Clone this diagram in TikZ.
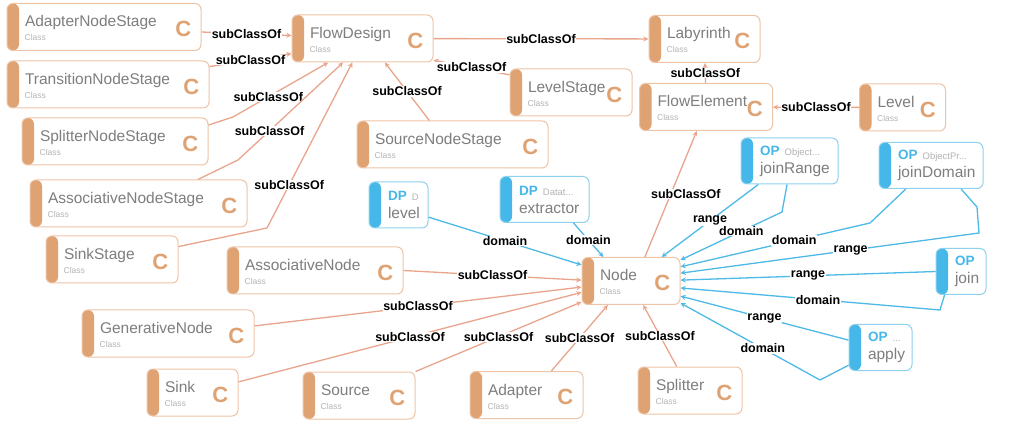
\documentclass[tikz,border=0pt]{standalone}
\usepackage{fontspec}
\setmainfont{Liberation Sans}
\usetikzlibrary{arrows}
\hyphenpenalty=10000
\exhyphenpenalty=10000
\definecolor{clsbar}{HTML}{DFA272}
\definecolor{clsline}{HTML}{EEC4A6}
\definecolor{subline}{HTML}{E9A48C}
\definecolor{propbar}{HTML}{45B7E8}
\definecolor{propline}{HTML}{8ED1EF}
\definecolor{propedge}{HTML}{4DB9E6}
\definecolor{namegray}{HTML}{7E7E7E}
\definecolor{taggray}{HTML}{B4B4B4}
\newcommand{\kindline}[2]{{\bfseries\fontsize{13.5}{18}\selectfont\color{propbar}#1}~{\fontsize{9.5}{18}\selectfont\color{taggray}#2}}
\tikzstyle{classbox} = [rectangle, rounded corners=6pt, draw=clsline, line width=1pt, fill=white, minimum height=47pt, inner xsep=18pt, inner ysep=0pt, text height=12pt, text depth=12pt, align=left, font=\fontsize{15.5}{18}\selectfont, text=namegray, path picture={\fill[clsbar] (path picture bounding box.south west) rectangle ([xshift=12pt]path picture bounding box.north west);}, label={[anchor=east, inner sep=0pt, xshift=-10pt, yshift=-2pt, text width=17pt, align=right, fill=none, font=\bfseries\fontsize{22}{22}\selectfont, text=clsbar]east:C}, label={[anchor=base west, inner sep=0pt, xshift=18pt, yshift=10pt, text width=30pt, align=left, fill=none, font=\fontsize{8.5}{10}\selectfont, text=taggray]south west:Class}]
\tikzstyle{propbox} = [rectangle, rounded corners=6pt, draw=propline, line width=1pt, fill=white, minimum height=46pt, inner xsep=19pt, inner ysep=0pt, align=left, font=\fontsize{15.5}{18}\selectfont, text=namegray, path picture={\fill[propbar] (path picture bounding box.south west) rectangle ([xshift=12pt]path picture bounding box.north west);}]
\tikzstyle{subarrow} = [->, >=stealth, draw=subline, line width=1.3pt]
\tikzstyle{proparrow} = [->, >=stealth, draw=propedge, line width=1.3pt]
\tikzstyle{edgelabel} = [font=\bfseries\fontsize{12.5}{14}\selectfont, text=black, fill=white, inner sep=0.5pt]

\begin{document}
\begin{tikzpicture}[x=1pt, y=1pt]
\useasboundingbox (0,0) rectangle (1012,426);
% classes
\node (adapterstage) [classbox, text width=158pt] at (104,399) {AdapterNodeStage};
\node (transitionstage) [classbox, text width=166pt] at (108,341.5) {TransitionNodeStage};
\node (splitterstage) [classbox, text width=150pt] at (115,284.5) {SplitterNodeStage};
\node (assocstage) [classbox, text width=181pt] at (138.5,222.5) {AssociativeNodeStage};
\node (sinkstage) [classbox, text width=96pt] at (112,166.5) {SinkStage};
\node (flowdesign) [classbox, text width=105pt] at (362.5,387.5) {FlowDesign};
\node (sourcestage) [classbox, text width=155pt] at (452.5,281.5) {SourceNodeStage};
\node (levelstage) [classbox, text width=86pt] at (571,333.5) {LevelStage};
\node (labyrinth) [classbox, text width=75pt] at (704.5,387) {Labyrinth};
\node (flowelement) [classbox, text width=97pt] at (706,319) {FlowElement};
\node (levelclass) [classbox, text width=50pt] at (902.5,318.5) {Level};
\node (assocnode) [classbox, text width=140pt] at (315,155.5) {AssociativeNode};
\node (generative) [classbox, text width=136pt] at (168,92.5) {GenerativeNode};
\node (sink) [classbox, text width=55pt] at (192.5,33.5) {Sink};
\node (source) [classbox, text width=76pt] at (359,30.5) {Source};
\node (adapter) [classbox, text width=77pt] at (526.5,31) {Adapter};
\node (splitter) [classbox, text width=68pt] at (690,35.5) {Splitter};
\node (nodeclass) [classbox, text width=62pt] at (631,145) {Node};
% properties
\node (levelprop) [propbox, text width=21pt] at (398.5,221) {\kindline{DP}{D}\\level};
\node (extractor) [propbox, text width=51pt] at (544.5,226.5) {\kindline{DP}{Datat...}\\extractor};
\node (joinrange) [propbox, text width=59pt] at (789.5,265) {\kindline{OP}{Object...}\\joinRange};
\node (joindomain) [propbox, text width=66pt] at (931,260.5) {\kindline{OP}{ObjectPr...}\\joinDomain};
\node (join) [propbox, text width=12pt] at (961,154.5) {\kindline{OP}{}\\join};
\node (apply) [propbox, text width=25pt] at (880.5,78.5) {\kindline{OP}{...}\\apply};
% subClassOf
\draw [subarrow] ([yshift=-5pt]adapterstage.east) -- node[edgelabel]{subClassOf} ([yshift=3pt]flowdesign.west);
\draw [subarrow] (transitionstage.10) -- node[edgelabel]{subClassOf} (flowdesign.192);
\draw [subarrow] (splitterstage.10) -- (233,309) -- node[edgelabel, pos=0.37]{subClassOf} (flowdesign.215);
\draw [subarrow] (assocstage.22) -- (238,266) -- node[edgelabel, pos=0.3]{subClassOf} (flowdesign.231);
\draw [subarrow] (sinkstage.11) -- (267,198) -- node[edgelabel, pos=0.26]{subClassOf} (flowdesign.247);
\draw [subarrow] (sourcestage.134) -- node[edgelabel]{subClassOf} (flowdesign.-47);
\draw [subarrow] (levelstage.164) -- node[edgelabel]{subClassOf} (flowdesign.-17);
\draw [subarrow] (flowdesign) -- node[edgelabel]{subClassOf} (labyrinth);
\draw [subarrow] (flowelement) -- node[edgelabel]{subClassOf} (labyrinth);
\draw [subarrow] (levelclass) -- node[edgelabel]{subClassOf} (flowelement);
\draw [subarrow] (nodeclass.60) -- node[edgelabel, xshift=15pt]{subClassOf} (flowelement.249);
\draw [subarrow] (assocnode.east) -- node[edgelabel]{subClassOf} (nodeclass.179);
\draw [subarrow] (generative.5) -- node[edgelabel]{subClassOf} (nodeclass.187);
\draw [subarrow] (sink.13) -- node[edgelabel]{subClassOf} (nodeclass.193);
\draw [subarrow] (source.north east) -- node[edgelabel]{subClassOf} (nodeclass.203);
\draw [subarrow] (adapter.44) -- node[edgelabel]{subClassOf} (nodeclass.226);
\draw [subarrow] (splitter.119) -- node[edgelabel]{subClassOf} (nodeclass.-63);
% domain / range
\draw [proparrow] (levelprop.-22) -- node[edgelabel]{domain} (nodeclass.162);
\draw [proparrow] (extractor.-39) -- node[edgelabel]{domain} (nodeclass.139);
\draw [proparrow] (joinrange.217) -- node[edgelabel]{range} (nodeclass.38);
\draw [proparrow] (joinrange.264) -- (782,214) -- node[edgelabel, pos=0.4]{domain} (nodeclass.23);
\draw [proparrow] (joindomain.223) -- (870,203) -- node[edgelabel, pos=0.4]{domain} (nodeclass.16);
\draw [proparrow] (joindomain.322) -- (977,219) -- (979,193) -- node[edgelabel, pos=0.43]{range} (nodeclass.9);
\draw [proparrow] (join.west) -- node[edgelabel]{range} (nodeclass.1);
\draw [proparrow] (join.235) -- (940,116) -- node[edgelabel, pos=0.47]{domain} (nodeclass.-8);
\draw [proparrow] (apply.167) -- node[edgelabel]{range} (nodeclass.-17);
\draw [proparrow] (apply.209) -- (820,46) -- node[edgelabel, pos=0.41]{domain} (nodeclass.-24);
\end{tikzpicture}
\end{document}
